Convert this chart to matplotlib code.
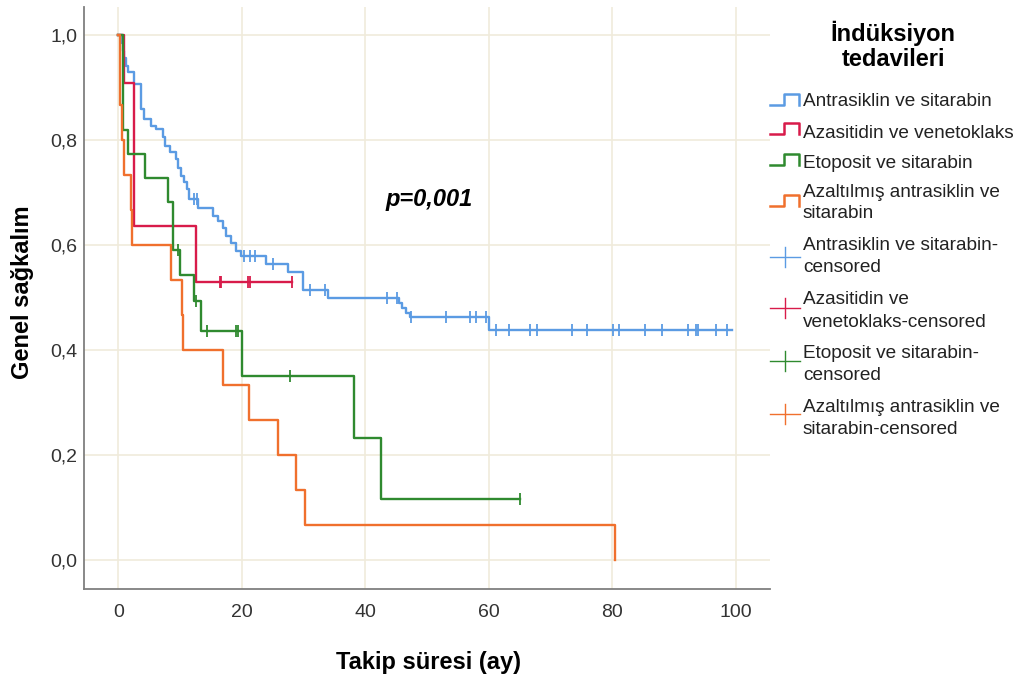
import numpy as np
import matplotlib
matplotlib.use("Agg")
import matplotlib.pyplot as plt
from matplotlib.lines import Line2D

plt.rcParams['font.family'] = ['Liberation Sans', 'DejaVu Sans']

# Kaplan-Meier step data (time in months, survival after the step)
blue_t = [0, 0.6, 0.8, 1.0, 1.3, 1.5, 2.6, 3.7, 4.2, 5.3, 6.1, 7.2, 7.5, 8.3, 9.3, 9.6, 10.2,
          10.7, 11.2, 11.5, 12.9, 15.3, 16.1, 16.9, 17.5, 18.3, 19.1, 19.9, 23.9, 27.4, 29.9,
          33.9, 45.5, 46.0, 46.6, 47.2, 60.0]
blue_s = [1.0, 0.985, 0.97, 0.955, 0.94, 0.929, 0.906, 0.859, 0.840, 0.827, 0.820, 0.805,
          0.789, 0.776, 0.763, 0.747, 0.731, 0.719, 0.706, 0.687, 0.671, 0.655, 0.646, 0.633,
          0.617, 0.604, 0.588, 0.579, 0.563, 0.548, 0.515, 0.499, 0.490, 0.480, 0.470, 0.463,
          0.438]
blue_end = 99.3
blue_cens = [12.2, 12.7, 20.4, 21.3, 22.2, 25.1, 31.0, 33.5, 43.5, 45.1, 47.4, 53.0, 57.0,
             57.9, 59.6, 61.1, 63.2, 66.7, 67.8, 73.4, 75.9, 80.1, 81.0, 85.3, 88.0, 92.3,
             93.5, 93.9, 96.8, 98.6]

red_t = [0, 0.9, 2.6, 12.6]
red_s = [1.0, 0.909, 0.636, 0.530]
red_end = 28.2
red_cens = [16.4, 16.6, 21.0, 21.4, 28.2]

green_t = [0, 0.7, 1.5, 4.4, 8.0, 8.8, 10.0, 12.3, 13.4, 20.1, 38.1, 42.6]
green_s = [1.0, 0.818, 0.773, 0.727, 0.682, 0.591, 0.542, 0.493, 0.437, 0.350, 0.233, 0.116]
green_end = 65.0
green_cens = [9.7, 12.6, 14.3, 19.0, 19.3, 27.8, 65.0]

orange_t = [0, 0.3, 0.6, 0.9, 2.0, 2.3, 8.5, 10.3, 10.5, 17.0, 21.2, 25.9, 28.8, 30.2, 80.4]
orange_s = [1.0, 0.867, 0.8, 0.733, 0.667, 0.6, 0.533, 0.467, 0.4, 0.333, 0.267, 0.2, 0.133,
            0.067, 0.0]
orange_end = 80.4
orange_cens = []

names = ["Antrasiklin ve sitarabin", "Azasitidin ve venetoklaks", "Etoposit ve sitarabin",
         "Azaltılmış antrasiklin ve\nsitarabin"]
cens_names = ["Antrasiklin ve sitarabin-\ncensored", "Azasitidin ve\nvenetoklaks-censored",
              "Etoposit ve sitarabin-\ncensored", "Azaltılmış antrasiklin ve\nsitarabin-censored"]
colors = ["#5b9be3", "#d81b4a", "#2f8a2f", "#f0702d"]

x_ticks = [0, 20, 40, 60, 80, 100]
y_ticks = [0.0, 0.2, 0.4, 0.6, 0.8, 1.0]

fig = plt.figure(figsize=(10.25, 6.86), dpi=100)
ax = fig.add_axes([84/1025, 1-589/686, (770-84)/1025, (589-7)/686])

series = [(blue_t, blue_s, blue_end, blue_cens), (red_t, red_s, red_end, red_cens),
          (green_t, green_s, green_end, green_cens), (orange_t, orange_s, orange_end, orange_cens)]
for (t, s, end, cens), c in zip(series, colors):
    tt = list(t) + ([end] if end > t[-1] else [])
    ss = list(s) + ([s[-1]] if end > t[-1] else [])
    ax.step(tt, ss, where='post', color=c, lw=1.7, zorder=3)
    if cens:
        idx = np.searchsorted(t, cens, side='right') - 1
        ax.plot(cens, np.array(s)[idx], ls='none', marker='|', ms=8, mew=1.3, color=c, zorder=4)

ax.set_xlim(-5.55, 105.5)
ax.set_ylim(-0.055, 1.053)
ax.set_xticks(x_ticks)
ax.set_yticks(y_ticks)
ax.set_yticklabels([f"{v:.1f}".replace('.', ',') for v in y_ticks])
ax.tick_params(length=0, labelsize=14, colors='#333333')
ax.tick_params(axis='x', pad=11)
ax.tick_params(axis='y', pad=5)
ax.grid(True, color='#f0ebdb', lw=1.2, zorder=0)
ax.set_axisbelow(True)
for sp in ['top', 'right']:
    ax.spines[sp].set_visible(False)
for sp in ['left', 'bottom']:
    ax.spines[sp].set_color('#7f7f7f')
    ax.spines[sp].set_linewidth(1.3)

ax.text(50.3, 0.686, "p=0,001", fontsize=17, fontweight='bold', fontstyle='italic',
        ha='center', va='center')

fig.text(428/1025, 1-662/686, "Takip süresi (ay)", fontsize=17, fontweight='bold',
         ha='center', va='center')
fig.text(23/1025, 1-292/686, "Genel sağkalım", fontsize=17, fontweight='bold',
         ha='center', va='center', rotation=90)

# legend drawn by hand to match the SPSS layout
def fx(px):
    return px/1025
def fy(py):
    return 1-py/686

fig.text(fx(893), fy(33), "İndüksiyon", fontsize=17, fontweight='bold', ha='center', va='center')
fig.text(fx(893), fy(60), "tedavileri", fontsize=17, fontweight='bold', ha='center', va='center')

step_rows = [(100, [102]), (129, [133]), (160, [163]), (201, [193, 214])]
for (iy, lines), c, nm in zip(step_rows, colors, names):
    xs = [770, 784, 784, 799, 799]
    ys = [iy+5, iy+5, iy-6, iy-6, iy+5]
    fig.add_artist(Line2D([fx(v) for v in xs], [fy(v) for v in ys], color=c, lw=1.8))
    for ly, txt in zip(lines, nm.split('\n')):
        fig.text(fx(803), fy(ly), txt, fontsize=13.7, ha='left', va='center', color='#222222')

cross_rows = [(257, [246, 268]), (308, [300, 322]), (361, [354, 376]), (414, [407, 429])]
for (iy, lines), c, nm in zip(cross_rows, colors, cens_names):
    fig.add_artist(Line2D([fx(770), fx(800)], [fy(iy), fy(iy)], color=c, lw=1.0))
    fig.add_artist(Line2D([fx(785), fx(785)], [fy(iy-10), fy(iy+10)], color=c, lw=1.0))
    for ly, txt in zip(lines, nm.split('\n')):
        fig.text(fx(803), fy(ly), txt, fontsize=13.7, ha='left', va='center', color='#222222')

fig.savefig("out.png", dpi=100)
